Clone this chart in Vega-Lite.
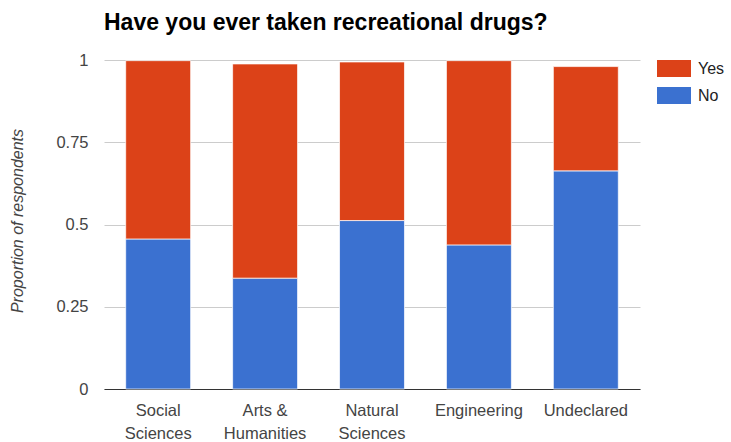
{
  "$schema": "https://vega.github.io/schema/vega-lite/v6.json",
  "width": 536,
  "height": 329,
  "autosize": {"type": "none"},
  "padding": {"left": 104, "top": 60, "right": 91, "bottom": 53},
  "background": "#ffffff",
  "title": {
    "text": "Have you ever taken recreational drugs?",
    "anchor": "start",
    "frame": "group",
    "font": "Liberation Sans",
    "fontSize": 23,
    "fontWeight": "bold",
    "color": "#000000",
    "baseline": "alphabetic",
    "offset": -1
  },
  "data": {
    "values": [
      {"major": "Social Sciences", "answer": "No", "proportion": 0.456},
      {"major": "Social Sciences", "answer": "Yes", "proportion": 0.542},
      {"major": "Arts & Humanities", "answer": "No", "proportion": 0.337},
      {"major": "Arts & Humanities", "answer": "Yes", "proportion": 0.651},
      {"major": "Natural Sciences", "answer": "No", "proportion": 0.512},
      {"major": "Natural Sciences", "answer": "Yes", "proportion": 0.482},
      {"major": "Engineering", "answer": "No", "proportion": 0.438},
      {"major": "Engineering", "answer": "Yes", "proportion": 0.56},
      {"major": "Undeclared", "answer": "No", "proportion": 0.663},
      {"major": "Undeclared", "answer": "Yes", "proportion": 0.317}
    ]
  },
  "mark": {"type": "bar", "stroke": "#ffffff", "strokeWidth": 1, "strokeOpacity": 0.7},
  "encoding": {
    "x": {
      "field": "major",
      "type": "nominal",
      "sort": ["Social Sciences", "Arts & Humanities", "Natural Sciences", "Engineering", "Undeclared"],
      "scale": {"paddingInner": 0.3925, "paddingOuter": 0.203},
      "axis": {
        "title": null,
        "labelAngle": 0,
        "labelFont": "Liberation Sans",
        "labelFontSize": 16.5,
        "labelColor": "#444444",
        "labelBaseline": "alphabetic",
        "labelPadding": 26,
        "labelLineHeight": 23,
        "labelExpr": "datum.label == 'Arts & Humanities' ? ['Arts &', 'Humanities'] : split(datum.label, ' ')",
        "ticks": false,
        "domain": true,
        "domainColor": "#333333",
        "domainWidth": 1,
        "grid": false
      }
    },
    "y": {
      "field": "proportion",
      "type": "quantitative",
      "stack": "zero",
      "scale": {"domain": [0, 1], "nice": false},
      "axis": {
        "values": [0, 0.25, 0.5, 0.75, 1],
        "format": ".2~f",
        "title": "Proportion of respondents",
        "titleFont": "Liberation Sans",
        "titleFontSize": 16,
        "titleFontStyle": "italic",
        "titleFontWeight": "normal",
        "titleColor": "#444444",
        "titleAngle": -90,
        "titleAlign": "center",
        "titleBaseline": "alphabetic",
        "titleX": -81.5,
        "titleY": 160.5,
        "labelFont": "Liberation Sans",
        "labelFontSize": 16.5,
        "labelColor": "#444444",
        "labelPadding": 16,
        "labelBaseline": "middle",
        "ticks": false,
        "domain": false,
        "grid": true,
        "gridColor": "#cccccc",
        "gridWidth": 1
      }
    },
    "order": {"field": "answer", "sort": "ascending"},
    "color": {
      "field": "answer",
      "type": "nominal",
      "scale": {"domain": ["Yes", "No"], "range": ["#dc4218", "#3b71d0"]},
      "legend": {
        "orient": "none",
        "legendX": 561.5,
        "legendY": 0,
        "title": null,
        "padding": 0,
        "symbolType": "M-2,-1H2V1H-2Z",
        "symbolSize": 289,
        "symbolStrokeWidth": 0,
        "symbolOpacity": 1,
        "labelFont": "Liberation Sans",
        "labelFontSize": 16,
        "labelColor": "#222222",
        "labelOffset": 15.5,
        "rowPadding": 10
      }
    }
  },
  "config": {"view": {"stroke": null}}
}
